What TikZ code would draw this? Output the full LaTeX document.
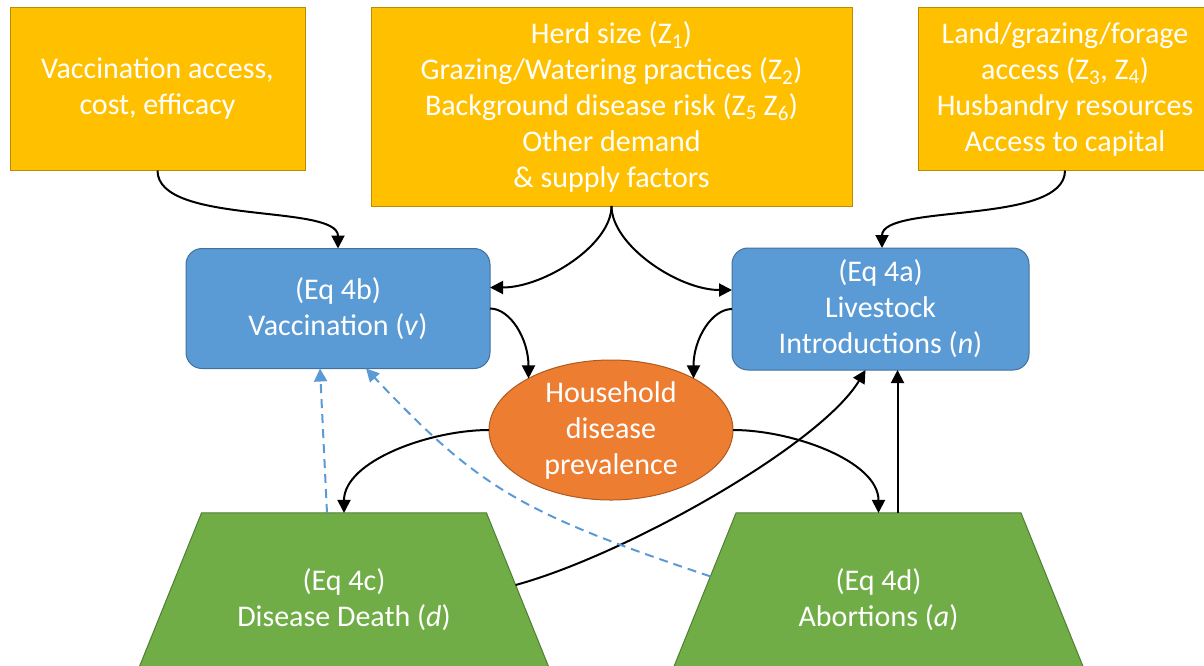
\documentclass[tikz,border=0pt]{standalone}
\usepackage{fontspec}
\setmainfont{Carlito}
\usetikzlibrary{shapes.geometric,arrows.meta}

\definecolor{gold}{HTML}{FFC000}
\definecolor{goldline}{HTML}{BC8C00}
\definecolor{steel}{HTML}{5B9BD5}
\definecolor{steelline}{HTML}{41719C}
\definecolor{rust}{HTML}{ED7D31}
\definecolor{rustline}{HTML}{AE5A21}
\definecolor{leaf}{HTML}{70AD47}
\definecolor{leafline}{HTML}{507E32}

\tikzset{
	txt/.style={text=white, align=center, font=\fontsize{30}{36}\selectfont, inner sep=0pt, outer sep=0pt, line width=1pt},
	factor/.style={txt, shape=rectangle, fill=gold, draw=goldline},
	choice/.style={txt, shape=rectangle, rounded corners=16pt, fill=steel, draw=steelline},
	hub/.style={txt, shape=ellipse, fill=rust, draw=rustline},
	outcome/.style={txt, align=flush center, shape=trapezium, trapezium angle=68, text width=245pt, inner xsep=20pt, inner ysep=56pt, fill=leaf, draw=leafline},
	arr/.style={-{Triangle[length=13pt,width=13pt]}, line width=2pt, black},
	feedback/.style={-{Triangle[length=13pt,width=13pt]}, line width=2pt, steel, dash pattern=on 9pt off 6pt}
}

\begin{document}
\begin{tikzpicture}[x=1pt, y=-1pt]
	\useasboundingbox (0, 0) rectangle (1204, 665);

	% drivers
	\node[factor, minimum width=295pt, minimum height=163pt] (vacc) at (157.5, 89) {Vaccination access,\\cost, efficacy};
	\node[factor, minimum width=481pt, minimum height=199pt] (herd) at (611.5, 106.5) {Herd size (Z\textsubscript{1})\\Grazing/Watering practices (Z\textsubscript{2})\\Background disease risk (Z\textsubscript{5} Z\textsubscript{6})\\Other demand\\\& supply factors};
	\node[factor, minimum width=294pt, minimum height=163pt] (land) at (1065, 89) {Land/grazing/forage\\access (Z\textsubscript{3}, Z\textsubscript{4})\\Husbandry resources\\Access to capital};

	% decisions
	\node[choice, minimum width=304pt, minimum height=120pt] (vax) at (338, 308.5) {(Eq 4b)\\Vaccination (\textit{v})};
	\node[choice, minimum width=297pt, minimum height=122pt] (intro) at (880.5, 309) {(Eq 4a)\\Livestock\\Introductions (\textit{n})};
	\node[hub, minimum width=244pt, minimum height=140pt] (prevalence) at (611, 430) {Household\\disease\\prevalence};

	% outcomes
	\node[outcome] (death) at (344, 600) {(Eq 4c)\\Disease Death (\textit{d})};
	\node[outcome] (abort) at (878.5, 600) {(Eq 4d)\\Abortions (\textit{a})};

	\draw[arr] (vacc.south) .. controls +(0, 55) and +(0, -45) .. (vax.north);
	\draw[arr] (land.south) .. controls +(0, 55) and +(0, -45) .. ([xshift=1.5pt]intro.north);
	\draw[arr] (herd.south) .. controls +(0, 39) and +(54, 0) .. ([yshift=21pt]vax.east);
	\draw[arr] (herd.south) .. controls +(0, 39) and +(-54, 0) .. ([yshift=19pt]intro.west);
	\draw[arr] (vax.east) .. controls +(20, 0) and +(0, -40) .. (prevalence.148);
	\draw[arr] (intro.west) .. controls +(-20, 0) and +(0, -40) .. (prevalence.32);
	\draw[arr] (prevalence.west) .. controls +(-59, 0) and +(0, -52) .. (death.north);
	\draw[arr] (prevalence.east) .. controls +(59, 0) and +(0, -52) .. (abort.north);
	\coordinate (lift) at ([xshift=19pt]abort.north);
	\draw[arr] (lift) -- (lift |- intro.south);
	\draw[arr] (death.5) .. controls +(110, -30) and +(-45, 75) .. ([xshift=-15pt]intro.south);

	% feedback
	\draw[feedback] ([xshift=-17pt]death.north) -- ([xshift=-18pt]vax.south);
	\draw[feedback] (abort.172) .. controls +(-188, -63) and +(113, 120) .. ([xshift=28pt]vax.south);
\end{tikzpicture}
\end{document}
